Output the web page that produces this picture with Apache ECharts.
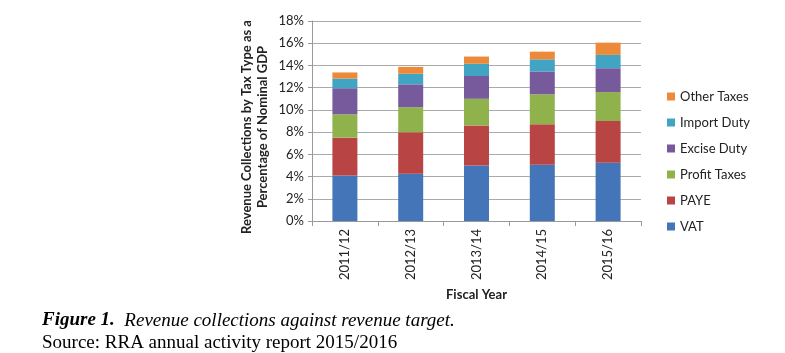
<!DOCTYPE html>
<html>
<head>
<meta charset="utf-8">
<script src="https://cdn.jsdelivr.net/npm/echarts@6/dist/echarts.min.js"></script>
<style>
  html, body { margin: 0; padding: 0; background: #fff; }
  #chart { width: 785px; height: 353px; }
</style>
</head>
<body>
<div id="chart"></div>
<script>
// fiscal years
const years = ['2011/12', '2012/13', '2013/14', '2014/15', '2015/16'];

// % of nominal GDP
const vat = [4.1, 4.25, 5.0, 5.07, 5.25];
const paye = [3.4, 3.73, 3.6, 3.63, 3.75];
const profitTaxes = [2.1, 2.26, 2.4, 2.7, 2.6];
const exciseDuty = [2.35, 2.06, 2.05, 2.06, 2.15];
const importDuty = [0.87, 0.95, 1.1, 1.09, 1.2];
const otherTaxes = [0.55, 0.62, 0.65, 0.69, 1.1];

const yTicks = [0, 2, 4, 6, 8, 10, 12, 14, 16, 18];

const seriesList = [
  { name: 'VAT', data: vat, color: '#4375b8' },
  { name: 'PAYE', data: paye, color: '#b84543' },
  { name: 'Profit Taxes', data: profitTaxes, color: '#90b24c' },
  { name: 'Excise Duty', data: exciseDuty, color: '#775a9b' },
  { name: 'Import Duty', data: importDuty, color: '#40a4c2' },
  { name: 'Other Taxes', data: otherTaxes, color: '#ec8a3a' }
];

const chart = echarts.init(document.getElementById('chart'));

chart.setOption({
  animation: false,
  textStyle: { fontFamily: 'Lato' },
  grid: { left: 312, right: 144, top: 21, bottom: 132 },
  legend: {
    orient: 'vertical',
    left: 662,
    top: 85,
    itemWidth: 8,
    itemHeight: 8,
    itemGap: 13,
    icon: 'rect',
    textStyle: { fontSize: 13, color: '#222' },
    data: seriesList.map(s => s.name).reverse()
  },
  xAxis: {
    type: 'category',
    data: years,
    name: 'Fiscal Year',
    nameLocation: 'middle',
    nameGap: 66,
    nameTextStyle: { fontWeight: 'bold', fontSize: 13, color: '#222' },
    axisLine: { lineStyle: { color: '#999' } },
    axisTick: { show: true, length: 5, lineStyle: { color: '#999' } },
    axisLabel: { rotate: 90, fontSize: 13, color: '#222', margin: 8 }
  },
  yAxis: {
    type: 'value',
    min: 0,
    max: yTicks[yTicks.length - 1],
    interval: 2,
    name: 'Revenue Collections by Tax Type as a\nPercentage of Nominal GDP',
    nameLocation: 'middle',
    nameGap: 41,
    nameTextStyle: { fontWeight: 'bold', fontSize: 13, color: '#222', lineHeight: 16, padding: [0, 12, 0, 0] },
    axisLine: { show: true, lineStyle: { color: '#999' } },
    axisTick: { show: true, length: 4, lineStyle: { color: '#999' } },
    axisLabel: { formatter: '{value}%', fontSize: 13, color: '#222', margin: 8 },
    splitLine: { lineStyle: { color: '#aaa' } }
  },
  series: seriesList.map(s => ({
    name: s.name,
    type: 'bar',
    stack: 'total',
    barWidth: 25,
    data: s.data,
    itemStyle: { color: s.color }
  })),
  graphic: [
    {
      type: 'text',
      left: 42,
      top: 311,
      style: {
        text: '{b|Figure 1.}  Revenue collections against revenue target.',
        font: 'italic 19px "Liberation Serif"',
        fill: '#000',
        rich: { b: { font: 'italic bold 19px "Liberation Serif"', fill: '#000' } }
      }
    },
    {
      type: 'text',
      left: 42,
      top: 334,
      style: {
        text: 'Source: RRA annual activity report 2015/2016',
        font: '19px "Liberation Serif"',
        fill: '#000'
      }
    }
  ]
});
</script>
</body>
</html>
